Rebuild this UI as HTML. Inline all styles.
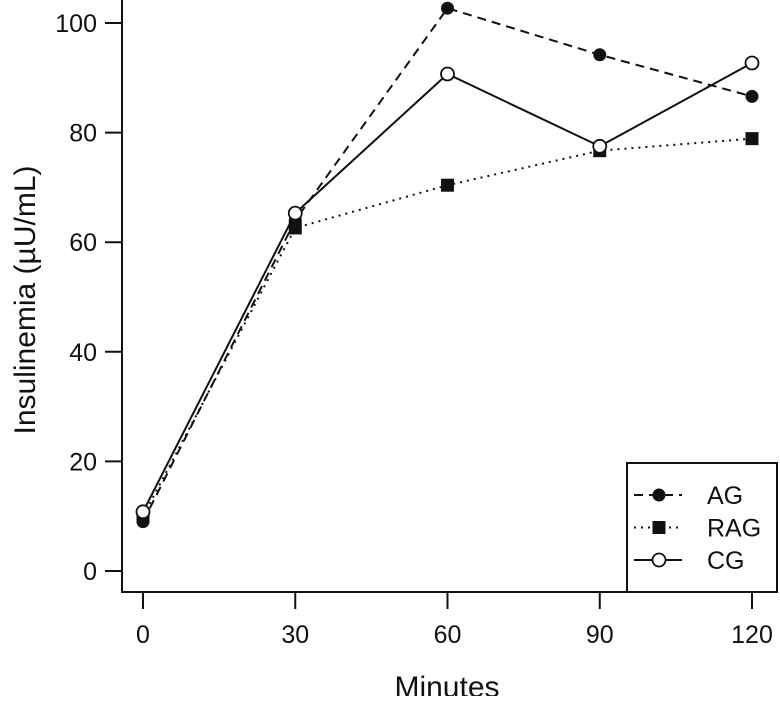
<!DOCTYPE html>
<html><head><meta charset="utf-8"><style>
html,body{margin:0;padding:0;background:#fff;}
svg text{font-family:"Liberation Sans",Arial,sans-serif;fill:#111;}
</style></head><body>
<svg id="chart" width="780" height="696" viewBox="0 0 780 696" xmlns="http://www.w3.org/2000/svg">
<g id="axes"></g>
<g id="series"></g>
<g id="legend"></g>
</svg>
<script>
const minutes = [0, 30, 60, 90, 120];
const agValues = [9, 64, 102.7, 94.2, 86.6];
const ragValues = [10, 62.6, 70.4, 76.7, 78.9];
const cgValues = [10.8, 65.3, 90.7, 77.5, 92.7];
const yTicks = [0, 20, 40, 60, 80, 100];
const xTicks = [0, 30, 60, 90, 120];
const seriesNames = ["AG", "RAG", "CG"];

const NS = "http://www.w3.org/2000/svg";
function xs(m){ return 143 + (752 - 143) * m / 120; }
function ys(v){ return 571 - 5.48 * v; }
function mk(tag, attrs, parent){
  const e = document.createElementNS(NS, tag);
  for (const k in attrs) e.setAttribute(k, attrs[k]);
  parent.appendChild(e);
  return e;
}
const axes = document.getElementById('axes');
const series = document.getElementById('series');
const legend = document.getElementById('legend');
const st = {stroke:'#111','stroke-width':2,fill:'none'};

let yl = mk('path', Object.assign({d:'M122,0 V592 H627'}, st), axes);


yTicks.forEach(v => {
  const t = mk('line', Object.assign({x1:105, x2:122, y1:ys(v), y2:ys(v)}, st), axes);
  
  
  const l = mk('text', {x:97, y:ys(v)+9, 'text-anchor':'end', 'font-size':25}, axes);
  l.textContent = v;
  
  
});
xTicks.forEach(v => {
  const t = mk('line', Object.assign({x1:xs(v), x2:xs(v), y1:592, y2:609}, st), axes);
  
  
  const l = mk('text', {x:xs(v), y:643, 'text-anchor':'middle', 'font-size':25}, axes);
  l.textContent = v;
  
  
});
const xt = mk('text', {x:447, y:697, 'text-anchor':'middle', 'font-size':30}, axes);
xt.textContent = 'Minutes';


const yt = mk('text', {x:0, y:0, 'text-anchor':'middle', 'font-size':30, transform:'translate(35,300) rotate(-90)'}, axes);
yt.textContent = 'Insulinemia (\u00b5U/mL)';



const dashes = ['9,6', '2,5', null];
const markers = ['dot', 'square', 'circle'];
function marker(type, x, y, parent){
  let m;
  if (type === 'square') m = mk('rect', {x:x-6.5, y:y-6.5, width:13, height:13, fill:'#111'}, parent);
  else if (type === 'dot') m = mk('circle', {cx:x, cy:y, r:6.5, fill:'#111'}, parent);
  else m = mk('circle', {cx:x, cy:y, r:6.5, fill:'#fff', stroke:'#111', 'stroke-width':1.8}, parent);
  return m;
}
const allVals = [agValues, ragValues, cgValues];
allVals.forEach((vals, si) => {
  const g = mk('g', {}, series);
  
  
  const d = vals.map((v,i) => (i ? 'L' : 'M') + xs(minutes[i]) + ',' + ys(v)).join(' ');
  const a = {d:d, stroke:'#111', 'stroke-width':2, fill:'none'};
  if (dashes[si]) a['stroke-dasharray'] = dashes[si];
  const p = mk('path', a, g);
  
  
  vals.forEach((v,i) => {
    const m = marker(markers[si], xs(minutes[i]), ys(v), g);
    
    
  });
});

const box = mk('rect', {x:627, y:463, width:150, height:129, fill:'#fff', stroke:'#111', 'stroke-width':2}, legend);


seriesNames.forEach((n, si) => {
  const y = 495 + si * 32.5;
  const g = mk('g', {}, legend);
  
  
  const a = {x1:634, x2:682, y1:y, y2:y, stroke:'#111', 'stroke-width':2};
  if (dashes[si]) a['stroke-dasharray'] = dashes[si];
  mk('line', a, g);
  marker(markers[si], 659, y, g);
  const t = mk('text', {x:707, y:y+9, 'font-size':25}, g);
  t.textContent = n;
  
  
});
</script>
</body></html>
